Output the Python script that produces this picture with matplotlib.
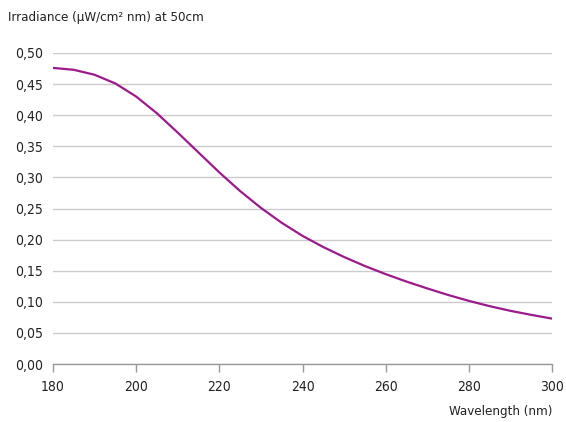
import matplotlib.pyplot as plt
from matplotlib.ticker import FuncFormatter

plt.rcParams['font.family'] = ['DejaVu Sans']
plt.rcParams['font.stretch'] = 'condensed'

wavelength = [180, 185, 190, 195, 200, 205, 210, 215, 220, 225, 230, 235, 240,
              245, 250, 255, 260, 265, 270, 275, 280, 285, 290, 295, 300]
irradiance = [0.476, 0.473, 0.465, 0.451, 0.430, 0.403, 0.372, 0.340, 0.308,
              0.278, 0.251, 0.227, 0.206, 0.188, 0.172, 0.1575, 0.1445, 0.1325,
              0.1215, 0.111, 0.1015, 0.093, 0.0855, 0.079, 0.073]

xticks = [180, 200, 220, 240, 260, 280, 300]
yticks = [0.0, 0.05, 0.10, 0.15, 0.20, 0.25, 0.30, 0.35, 0.40, 0.45, 0.50]

fig = plt.figure(figsize=(5.66, 4.22), dpi=100)
ax = fig.add_axes([53 / 566, 58 / 422, 499 / 566, 311 / 422])

ax.plot(wavelength, irradiance, color='#9c1a8c', linewidth=1.6, solid_joinstyle='round')

ax.set_xlim(180, 300)
ax.set_ylim(0, 0.5)
ax.set_xticks(xticks)
ax.set_yticks(yticks)
ax.yaxis.set_major_formatter(FuncFormatter(lambda v, p: ('%.2f' % v).replace('.', ',')))

ax.grid(axis='y', color='#cccccc', linewidth=1.0)
ax.set_axisbelow(True)
for s in ['top', 'right', 'left']:
    ax.spines[s].set_visible(False)
ax.spines['bottom'].set_color('#999999')
ax.spines['bottom'].set_linewidth(1.0)
ax.tick_params(axis='x', colors='#999999', length=5.5, width=1.0, pad=6,
               labelcolor='#222222', labelsize=10)
ax.tick_params(axis='y', length=0, pad=7, labelcolor='#222222', labelsize=10)

fig.text(8 / 566, 1 - 17 / 422, 'Irradiance (μW/cm² nm) at 50cm', fontsize=9.5,
         color='#222222', va='center', ha='left')
fig.text(552 / 566, 1 - 411 / 422, 'Wavelength (nm)', fontsize=9.5,
         color='#222222', va='center', ha='right')

fig.savefig('out.png', dpi=100)
